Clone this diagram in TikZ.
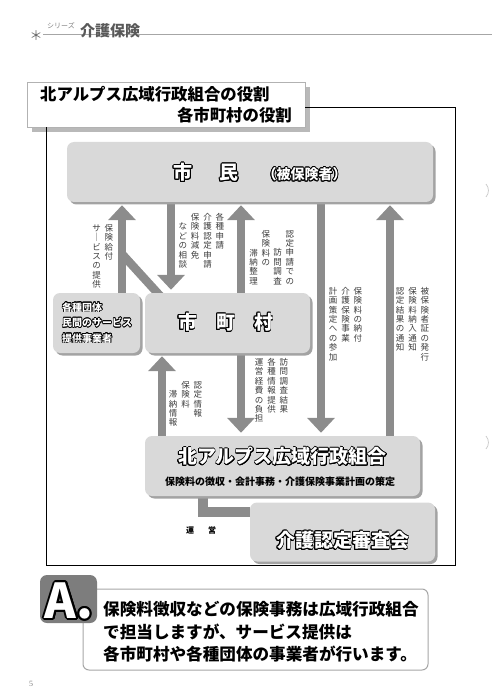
\documentclass[tikz,border=0pt]{standalone}
\usepackage{fontspec}
\setmainfont{Noto Sans CJK JP}
\newfontfamily\sotrang{Liberation Serif}
\usepackage[copies]{contour}
\usetikzlibrary{arrows.meta,shadows,backgrounds}

\definecolor{nenhop}{HTML}{D9D9D9}
\definecolor{bonghop}{HTML}{A3A3A3}
\definecolor{muixam}{HTML}{8C8C8C}
\definecolor{chuphu}{HTML}{3C3C3C}
\definecolor{huyhieu}{HTML}{7D7D7D}

\contourlength{0.9pt}
\newcommand{\noi}[1]{{\color{white}\contour{black}{#1}}}

% chu doc (tategaki)
\makeatletter
\newcommand{\tate}[1]{\edef\tate@chu{#1}\vtop{\baselineskip=9.4pt\lineskiplimit=-20pt\expandafter\tate@vong\tate@chu\@nil}}
\def\tate@vong#1#2\@nil{\hbox to 9pt{\hss#1\hss}\ifx\relax#2\relax\else\tate@vong#2\@nil\fi}
\newbox\tate@hop
\newcommand{\tategaki}[1]{\global\setbox\tate@hop\hbox{}%
  \foreach \dong in {#1}{\global\setbox\tate@hop\hbox{\tate{\dong}\kern3.3pt\unhcopy\tate@hop}}%
  \hbox{\unhbox\tate@hop\unkern}}
\makeatother

\begin{document}
\begin{tikzpicture}[x=1pt, y=-1pt,
    hop/.style={rounded corners=7pt, fill=nenhop, inner sep=0pt,
        drop shadow={shadow xshift=2.5pt, shadow yshift=-2.5pt, fill=bonghop, opacity=1}},
    than/.style={line width=8.5pt, draw=muixam},
    mui/.style={than, -{Triangle[width=27pt,length=15pt]}, shorten >=3pt},
    nhan/.style={inner sep=0pt, anchor=north east, text=chuphu, font=\fontsize{8.5}{9.4}\selectfont},
    chuto/.style={inner sep=0pt, font=\bfseries\fontsize{19}{19}\selectfont}]
    \useasboundingbox (0,0) rectangle (492,700);

    % 1. Tieu de trang
    \draw[gray!70, line width=0.6pt] (43,34) -- (492,34);
    \node[text=gray!80!black, font=\fontsize{13}{13}\selectfont] (sao) at (36,36) {＊};
    \node[text=gray, inner sep=0pt, font=\fontsize{7}{7}\selectfont] (loat) at (61,26) {シリーズ};
    \node[text=gray!70!black, inner sep=0pt, font=\bfseries\fontsize{15}{15}\selectfont] (chude) at (110,31) {介護保険};
    \draw[gray!40, line width=0.8pt] (486,184) to[bend left=40] (486,197);
    \draw[gray!40, line width=0.8pt] (486,436) to[bend left=40] (486,449);

    % 2. Hop tieu de va khung
    \node[fill=white, draw=gray!60, line width=0.6pt, minimum width=278pt, minimum height=45pt,
        drop shadow={shadow xshift=5pt, shadow yshift=-5pt, fill=gray!55, opacity=1}] (tieude) at (166,104.5) {};
    \node[anchor=west, inner sep=0pt, font=\bfseries\fontsize{16.4}{16.4}\selectfont] (vaitro1) at (40,94) {北アルプス広域行政組合の役割};
    \node[anchor=east, inner sep=0pt, font=\bfseries\fontsize{16.4}{16.4}\selectfont] (vaitro2) at (292,115) {各市町村の役割};
    \draw[line width=1pt] (tieude.east |- 0,108) -| (455,565) -| (46,0 |- tieude.south);

    % 3. Cac hop
    \node[hop, minimum width=366pt, minimum height=60pt] (shimin) at (250,172) {};
    \node[hop, minimum width=165pt, minimum height=60pt] (shichoson) at (227.5,323) {};
    \node[hop, minimum width=87pt, minimum height=60pt] (dantai) at (96.5,323) {};
    \node[hop, minimum width=275pt, minimum height=60pt] (kumiai) at (282.5,466) {};
    \node[hop, minimum width=185pt, minimum height=59pt] (shinsakai) at (342.5,532) {};

    % 4. Chu trong hop
    \node[chuto] (shimin-t) at (260,173) {\noi{市}\hspace{27pt}\noi{民}\hspace{24pt}\noi{\fontsize{14}{14}\selectfont（被保険者）}};
    \node[chuto] (shichoson-t) at (225.5,323) {\noi{市　町　村}};
    \node[chuto] (kumiai-t) at (282.5,457) {\noi{北アルプス広域行政組合}};
    \node[inner sep=0pt, font=\bfseries\fontsize{10}{10}\selectfont] (kumiai-p) at (280,482) {保険料の徴収・会計事務・介護保険事業計画の策定};
    \node[chuto] (shinsakai-t) at (342.5,541) {\noi{介護認定審査会}};
    \node[anchor=west, inner sep=0pt, align=left, font=\bfseries\fontsize{10}{15.5}\selectfont\contourlength{0.6pt}] (dantai-t) at (62,323)
        {\noi{各種団体}\\\noi{民間のサービス}\\\noi{提供事業者}};
    \node[inner sep=0pt, font=\bfseries\fontsize{8}{8}\selectfont] (unei) at (201,530) {運\hspace{14pt}営};

    % 5. Mui ten (nam duoi cac hop)
    \begin{scope}[on background layer]
    \foreach \xx/\tu/\den in {122/dantai/shimin, 241/shichoson/shimin, 390/kumiai/shimin, 162/kumiai/shichoson}
        \draw[mui] (\tu.north -| \xx,0) -- (\den.south -| \xx,0);
    \foreach \xx/\tu/\den in {171/shimin/shichoson, 321/shimin/kumiai, 241/shichoson/kumiai}
        \draw[mui] (\tu.south -| \xx,0) -- (\den.north -| \xx,0);
    \draw[than] ([xshift=18pt, yshift=-6pt]shichoson.north west) -- (122,254);
    \draw[than, line width=10pt] (kumiai.south -| 203,0) |- (shinsakai.west |- 0,512);
    \end{scope}

    % 6. Nhan doc
    \node[nhan] (l-kyufu) at (113.5,224) {\tategaki{保険給付, サ｜ビスの提供}};
    \node[nhan] (l-shinsei) at (224.5,213) {\tategaki{各種申請, 介護認定申請, 保険料減免, 　などの相談}};
    \node[nhan] (l-tainou) at (270.5,230) {\tategaki{保険料の, 　　滞納整理}};
    \node[nhan] (l-chousa) at (294.5,230) {\tategaki{認定申請での, 　　訪問調査}};
    \node[nhan] (l-nofu) at (362.5,287) {\tategaki{保険料の納付, 介護保険事業, 計画策定への参加}};
    \node[nhan] (l-hakko) at (429.5,287) {\tategaki{被保険者証の発行, 保険料納入通知, 認定結果の通知}};
    \node[nhan] (l-kekka) at (288.5,358) {\tategaki{訪問調査結果, 各種情報提供, 運営経費の負担}};
    \node[nhan] (l-joho) at (202.5,381) {\tategaki{認定情報, 保険料, 　滞納情報}};

    % 7. Cau tra loi
    \node[fill=white, draw=gray!70, line width=1pt, rounded corners=6pt, minimum width=345pt, minimum height=81pt] (traloi) at (255.5,629.5) {};
    \node[anchor=west, inner sep=0pt, align=left, font=\bfseries\fontsize{16.6}{22.5}\selectfont] (traloi-t) at (103,632)
        {保険料徴収などの保険事務は広域行政組合\\で担当しますが、サービス提供は\\各市町村や各種団体の事業者が行います。};
    \node[fill=huyhieu, rounded corners=7pt, minimum width=57pt, minimum height=48pt] (huy) at (68.5,599) {};
    \node[inner sep=0pt, font=\bfseries\fontsize{48}{48}\selectfont\contourlength{1.8pt}] (huy-t) at (69,602) {\noi{A.}};

    % 8. So trang
    \node[text=gray, font=\sotrang\fontsize{8}{8}\selectfont] (trang) at (31,684) {5};
\end{tikzpicture}
\end{document}
